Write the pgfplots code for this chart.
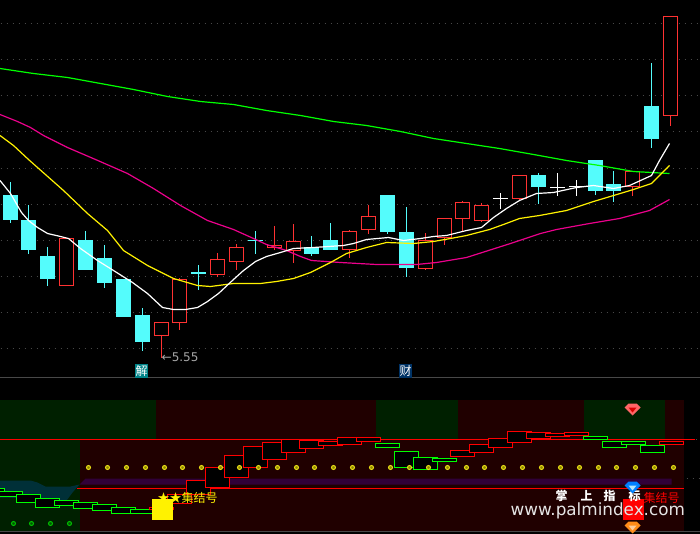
\documentclass[border=0pt]{standalone}
\usepackage{fontspec}
\setmainfont{DejaVu Sans}
\newfontfamily\cjk{Noto Sans CJK SC}
\usepackage{pgfplots}
\usepackage{pgfplotstable}
\pgfplotsset{compat=1.18}

\definecolor{kcyan}{HTML}{54FCFC}
\definecolor{kred}{HTML}{FF3232}
\definecolor{griddot}{HTML}{484848}
\definecolor{panelgreen}{HTML}{002000}
\definecolor{panelred}{HTML}{200000}
\definecolor{band}{HTML}{300038}
\definecolor{tealzone}{HTML}{003038}

% candles: x, body top, body bottom, wick high, wick low (screen scale, y down)
\pgfplotstableread{
x   top bot hi  lo
10  195 220 182 223
28  220 250 205 254
47  256 279 247 286
85  240 270 231 270
104 258 283 245 288
123 279 317 279 317
142 315 342 308 351
198 272 274 265 290
255 240 241 231 254
311 247 254 236 256
330 240 250 223 250
387 195 232 195 234
406 232 268 207 277
538 175 187 173 204
595 160 191 160 195
613 184 191 171 202
651 106 139 63  148
}\cyanK
\pgfplotstableread{
x   top bot hi  lo
66  238 286 238 286
161 322 336 322 358
179 279 323 278 330
217 259 275 253 277
236 247 262 244 270
274 245 248 226 250
293 241 251 224 263
349 231 250 230 258
368 216 230 205 234
425 240 269 233 270
444 218 238 218 245
462 202 219 201 232
481 205 221 203 222
519 175 199 175 200
632 171 187 171 196
670 16  116 16  126
}\redK
\pgfplotstableread{
x   top bot hi  lo
500 198 199 193 209
557 187 188 173 196
576 186 187 180 196
}\whiteK

% helpers
\newcommand{\area}[5]{\addplot[fill=#5,draw=none] coordinates {(#1,#3) (#2,#3) (#2,#4) (#1,#4)} --cycle;}
\newcommand{\lbox}[4]{\pgfmathsetmacro{\boxr}{#1+24}\addplot[draw=#4,fill=black,line width=1.3pt] coordinates {(#1,#2) (\boxr,#2) (\boxr,#3) (#1,#3)} --cycle;}
\newcommand{\wicks}[2]{\addplot[draw=none,mark=none,error bars/.cd,y dir=both,y explicit,error mark=none,
    error bar style={line width=1.3pt,color=#2}]
    table[x=x,y expr=(\thisrow{hi}+\thisrow{lo})/2-0.5,y error expr=(\thisrow{lo}-\thisrow{hi})/2] {#1};}
\newcommand{\bodies}[4]{\addplot[draw=none,mark=none,error bars/.cd,y dir=both,y explicit,error mark=none,
    error bar style={line width=#3pt,color=#2}]
    table[x=x,y expr=(\thisrow{top}+\thisrow{bot})/2-0.5,y error expr=(\thisrow{bot}-\thisrow{top})/2-#4] {#1};}

\pgfdeclareplotmark{gem}{%
  \pgfpathmoveto{\pgfpoint{-8pt}{2pt}}\pgfpathlineto{\pgfpoint{-4pt}{6pt}}\pgfpathlineto{\pgfpoint{4pt}{6pt}}%
  \pgfpathlineto{\pgfpoint{8pt}{2pt}}\pgfpathlineto{\pgfpoint{0pt}{-6pt}}\pgfpathclose\pgfusepathqfill}
\pgfdeclareplotmark{gemhi}{%
  \pgfpathmoveto{\pgfpoint{-4pt}{2pt}}\pgfpathlineto{\pgfpoint{4pt}{2pt}}\pgfpathlineto{\pgfpoint{0pt}{-3pt}}%
  \pgfpathclose\pgfusepathqfill}

\begin{document}
\begin{tikzpicture}
\begin{axis}[
  width=700pt, height=534pt, scale only axis,
  xmin=-0.5, xmax=699.5, ymin=-0.5, ymax=533.5, y dir=reverse,
  axis lines=none, clip=true,
]
\area{-0.5}{699.5}{-0.5}{533.5}{black}

% dotted price grid
\pgfplotsinvokeforeach{23,59,95,131,168,204,240,276,312,348}{
  \addplot[griddot,line width=1pt,dash pattern=on 1pt off 5pt] coordinates {(0,#1) (700,#1)};
}
\addplot[griddot,line width=1pt] coordinates {(-0.5,377) (700,377)};

% candles
\wicks{\cyanK}{kcyan}
\wicks{\redK}{kred}
\wicks{\whiteK}{white}
\bodies{\cyanK}{kcyan}{15}{0}
\bodies{\redK}{kred}{15}{0}
\bodies{\redK}{black}{12.6}{1.2}
\bodies{\whiteK}{white}{15}{0}

% moving averages
\addplot[green,line width=1.2pt] coordinates {(-0.5,68) (33,73) (67,77) (100,83) (133,89) (167,96) (200,101) (233,104)
  (266,110) (300,115) (333,121) (366,125) (400,131) (433,138) (466,143) (499,148) (533,154) (566,160) (599,165) (633,171) (669,173)};
\addplot[magenta,line width=1.2pt] coordinates {(-0.5,114) (17,121) (30,127) (43,135) (67,147) (95,159) (127,173) (153,188) (180,205) (207,220) (233,229)
  (253,238) (266,244) (286,250) (300,256) (311,260) (340,262) (376,264) (416,264) (436,262) (466,257) (510,243) (540,233) (556,229) (589,223) (619,218) (649,210) (669,199)};
\addplot[yellow,line width=1.2pt] coordinates {(-0.5,135) (13,145) (28,159) (37,167) (63,190) (87,213) (107,230) (123,250) (147,265) (173,278) (197,285) (210,286) (233,283)
  (260,283) (276,281) (293,278) (310,272) (330,262) (346,253) (366,247) (386,242) (413,243) (433,241) (450,238) (466,235) (489,229) (503,224) (519,218) (539,215) (566,210) (593,201) (613,195) (633,189) (651,183) (669,165)};
\addplot[white,line width=1.2pt] coordinates {(-0.5,180) (10,193) (21,212) (28,220) (37,227) (47,233) (60,236) (68,238) (80,248) (97,260) (113,270) (132,282) (147,293) (162,307) (173,309) (185,309) (197,307) (207,301) (218,293) (233,279)
  (243,270) (255,261) (266,256) (280,252) (293,248) (313,247) (343,245) (353,243) (366,239) (388,237) (403,240) (420,238) (433,236) (446,235) (466,230) (481,227) (493,217) (506,208) (519,200) (536,193) (553,192) (576,187) (593,185) (613,188) (629,185) (651,175) (659,160) (669,143)};

% lower panel backgrounds
\area{-0.5}{683}{399}{530}{panelred}
\area{-0.5}{155}{399}{439}{panelgreen}
\area{-0.5}{79}{439}{530}{panelgreen}
\area{375}{457}{399}{439}{panelgreen}
\area{583}{664}{399}{439}{panelgreen}
\addplot[griddot,line width=1pt] coordinates {(-0.5,531) (700,531)};
\addplot[fill=tealzone,draw=none] coordinates {(-0.5,480) (30,480) (37,482) (45,486) (70,486) (79,484) (72,492) (66,500) (40,498) (-0.5,497)} --cycle;
\addplot[fill=band,draw=none] coordinates {(79,484) (85,478) (671,478) (671,484)} --cycle;
\addplot[red,line width=1.2pt] coordinates {(-0.5,439) (694,439)};
\addplot[griddot,line width=1pt,dash pattern=on 1pt off 5pt] coordinates {(695,439) (700,439)};
\addplot[griddot,line width=1pt,dash pattern=on 1pt off 5pt] coordinates {(686,478) (700,478)};
\addplot[red,line width=1.2pt] coordinates {(76,488) (683,488)};

% signal dots
\addplot[only marks,mark=*,mark size=2pt,mark options={draw=yellow!90!black,fill=olive,line width=1pt}] coordinates {
 (88,467) (107,467) (126,467) (145,467) (164,467) (182,467) (201,467) (220,467) (239,467) (258,467) (277,467) (296,467) (314,467) (333,467) (352,467) (371,467) (390,467) (409,467) (428,467) (447,467) (466,467) (484,467) (503,467) (522,467) (541,467) (560,467) (579,467) (598,467) (616,467) (635,467) (654,467) (673,467)};
\addplot[only marks,mark=*,mark size=2pt,mark options={draw=green!75!black,fill=green!35!black,line width=1pt}] coordinates {(13,523) (31,523) (50,523) (69,523)};

% stepped boxes, later ones lie over earlier ones
\lbox{-20}{488}{492}{green}
\lbox{-2}{491}{496}{green}
\lbox{16}{494}{502}{green}
\lbox{35}{498}{507}{green}
\lbox{54}{500}{505}{green}
\lbox{73}{502}{508}{green}
\lbox{92}{504}{510}{green}
\lbox{111}{507}{513}{green}
\lbox{130}{509}{513}{green}
\lbox{149}{507}{509}{red}
\lbox{167}{494}{503}{red}
\lbox{186}{480}{494}{red}
\lbox{205}{467}{487}{red}
\lbox{224}{455}{477}{red}
\lbox{243}{446}{467}{red}
\lbox{262}{442}{459}{red}
\lbox{281}{439}{452}{red}
\lbox{299}{440}{448}{red}
\lbox{318}{441}{445}{red}
\lbox{337}{437}{444}{red}
\lbox{356}{437}{441}{red}
\lbox{375}{443}{447}{green}
\lbox{394}{451}{467}{green}
\lbox{413}{457}{469}{green}
\lbox{432}{458}{461}{green}
\lbox{450}{450}{456}{red}
\lbox{469}{444}{452}{red}
\lbox{488}{438}{447}{red}
\lbox{507}{431}{442}{red}
\lbox{526}{432}{438}{red}
\lbox{545}{433}{436}{red}
\lbox{564}{432}{435}{red}
\lbox{583}{436}{439}{green}
\lbox{602}{441}{447}{green}
\lbox{621}{441}{444}{green}
\lbox{640}{445}{452}{green}
\lbox{659}{441}{444}{red}

\area{151}{172}{498}{519}{yellow}
\area{622}{643}{498}{519}{red}

% gems
\addplot[only marks,mark=gem,mark options={fill=red!60!white}] coordinates {(632,409)};
\addplot[only marks,mark=gemhi,mark options={fill=red!85!black}] coordinates {(632,409)};
\addplot[only marks,mark=gem,mark options={fill=blue!50!cyan}] coordinates {(632,487)};
\addplot[only marks,mark=gemhi,mark options={fill=cyan!30!white}] coordinates {(632,487)};
\addplot[only marks,mark=gem,mark options={fill=orange!90!white}] coordinates {(632,527)};
\addplot[only marks,mark=gemhi,mark options={fill=orange!40!white}] coordinates {(632,527)};

% texts
\node[anchor=west,inner sep=0pt,text=yellow,font=\cjk\fontsize{12}{12}\selectfont] at (axis cs:157,497) {★★集结号};
\node[anchor=west,inner sep=0pt,text=red,font=\cjk\fontsize{12}{12}\selectfont] at (axis cs:643,497) {集结号};
\node[anchor=center,inner sep=0pt,text=white,font=\cjk\bfseries\fontsize{12}{12}\selectfont] at (axis cs:561,495) {掌};
\node[anchor=center,inner sep=0pt,text=white,font=\cjk\bfseries\fontsize{12}{12}\selectfont] at (axis cs:586,495) {上};
\node[anchor=center,inner sep=0pt,text=white,font=\cjk\bfseries\fontsize{12}{12}\selectfont] at (axis cs:609,495) {指};
\node[anchor=center,inner sep=0pt,text=white,font=\cjk\bfseries\fontsize{12}{12}\selectfont] at (axis cs:634,495) {标};
\node[anchor=west,inner sep=0pt,text=white!90!black,font=\fontsize{16.8}{16.8}\selectfont] at (axis cs:510,510) {www.palmindex.com};
\node[anchor=west,inner sep=0pt,text=white!65!black,font=\fontsize{12}{12}\selectfont] at (axis cs:161,357) {←5.55};
\node[fill=tealzone!60!cyan,minimum width=13pt,minimum height=14pt,inner sep=0pt,text=white,font=\cjk\fontsize{12}{12}\selectfont] at (axis cs:141,370) {解};
\definecolor{caibg}{HTML}{003366}
\node[fill=caibg,minimum width=13pt,minimum height=14pt,inner sep=0pt,text=white,font=\cjk\fontsize{12}{12}\selectfont] at (axis cs:405,370) {财};
\end{axis}
\end{tikzpicture}
\end{document}
